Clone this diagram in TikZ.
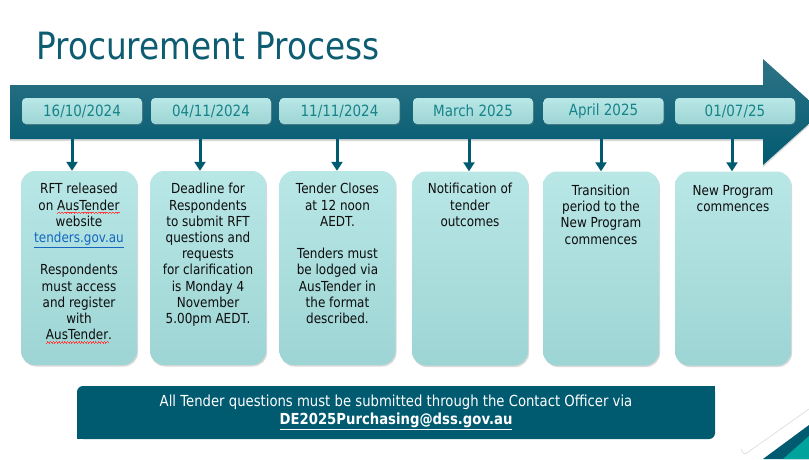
\documentclass[tikz,border=0pt]{standalone}
\usepackage{fontspec}
\usetikzlibrary{shadows,positioning,arrows.meta}
\newfontfamily\tah{DejaVu Sans}[FakeStretch=0.87]
\definecolor{tealdk}{HTML}{005A70}
\definecolor{bandtop}{HTML}{2F7386}
\definecolor{titlec}{HTML}{0E5C71}
\definecolor{datec}{HTML}{16838A}
\definecolor{boxtop}{HTML}{B8E7E6}
\definecolor{boxbot}{HTML}{9DD5D4}
\definecolor{linkc}{HTML}{1565C0}
\definecolor{tealmid}{HTML}{00A39C}
\newsavebox\sqbox
\newcommand\sq[1]{\sbox\sqbox{#1}\rlap{\color{red!75}\hbox to\wd\sqbox{\xleaders\hbox{\rule[-3.3pt]{0.7pt}{0.45pt}\rule[-2.6pt]{0.7pt}{0.45pt}\rule[-2.0pt]{0.7pt}{0.45pt}\rule[-2.6pt]{0.7pt}{0.45pt}}\hfill}}\usebox\sqbox}
\begin{document}
\begin{tikzpicture}[x=1pt,y=-1pt,
  datebox/.style={draw=none,rounded corners=4pt,top color=boxtop,bottom color=boxbot,
    minimum width=120pt,minimum height=26pt,inner sep=0pt,
    font=\tah\fontsize{15.5}{18}\selectfont,text=datec,
    drop shadow={opacity=.35,shadow xshift=.8pt,shadow yshift=-1.2pt}},
  cbox/.style={draw=none,rounded corners=14pt,top color=boxtop,bottom color=boxbot,
    minimum width=116pt,minimum height=194pt,inner sep=0pt,
    drop shadow={opacity=.3,shadow xshift=1pt,shadow yshift=-1.5pt}},
  ctext/.style={align=center,inner sep=0pt,font=\tah\fontsize{13.8}{16.2}\selectfont,text=black!95},
  arr/.style={draw=tealdk,line width=3pt,-{Triangle[width=11pt,length=9pt]}},
  banner/.style={fill=tealdk,rounded corners=6pt,minimum width=638pt,minimum height=53pt,
    align=center,text=white,font=\tah\fontsize{15.2}{18}\selectfont},
]
\useasboundingbox (0,0) rectangle (809,459);
\clip (0,0) rectangle (809,459);

% title
\node[anchor=base west,inner sep=0pt,text=titlec,font=\tah\fontsize{37.6}{40}\selectfont] (title) at (36,59) {Procurement Process};

% band arrow
\path[top color=bandtop,bottom color=tealdk,drop shadow={opacity=.3,shadow xshift=0pt,shadow yshift=-2pt}]
  (10,85) -- (763,85) -- (763,59) -- (822,112) -- (763,165) -- (763,139) -- (10,139) -- cycle;

% date boxes
\node[datebox] (d1) at (82,111) {16/10/2024};
\node[datebox] (d2) at (211,111) {04/11/2024};
\node[datebox] (d3) at (339.5,111) {11/11/2024};
\node[datebox] (d4) at (473,111) {March 2025};
\node[datebox] (d5) at (603.5,111) {April 2025};
\node[datebox] (d6) at (735,111) {01/07/25};

% content boxes
\node[cbox] (b1) at (79,268) {};
\node[cbox] (b2) at (208,268) {};
\node[cbox] (b3) at (337.5,268) {};
\node[cbox] (b4) at (470,268.5) {};
\node[cbox] (b5) at (601,268.5) {};
\node[cbox] (b6) at (733,268.5) {};

% arrows
\coordinate (a1) at (72,139);
\coordinate (a2) at (200,139);
\coordinate (a3) at (337,139);
\coordinate (a4) at (469,139);
\coordinate (a5) at (601,139);
\coordinate (a6) at (732,139);
\foreach \i in {1,...,6}{\draw[arr] (a\i) -- (a\i |- b\i.north);}

% texts
\node[ctext,below=12.5pt of b1.north] (t1) {RFT released\\on \sq{AusTender}\\website\\{\color{linkc}\underline{tenders.gov.au}}\\[16.2pt]Respondents\\must access\\and register\\with\\\sq{AusTender}.};
\node[ctext,below=12.5pt of b2.north] (t2) {Deadline for\\Respondents\\to submit RFT\\questions and\\requests\\for clarification\\is Monday 4\\November\\5.00pm AEDT.};
\node[ctext,below=12.5pt of b3.north] (t3) {Tender Closes\\at 12 noon\\AEDT.\\[16.2pt]Tenders must\\be lodged via\\AusTender in\\the format\\described.};
\node[ctext,below=12pt of b4.north] (t4) {Notification of\\tender\\outcomes};
\node[ctext,below=13.5pt of b5.north] (t5) {Transition\\period to the\\New Program\\commences};
\node[ctext,below=13.5pt of b6.north] (t6) {New Program\\commences};

% banner
\node[banner] (ban) at (396,412.5) {All Tender questions must be submitted through the Contact Officer via\\\textbf{\underline{DE2025Purchasing@dss.gov.au}}};
\fill[tealdk] (ban.south west) rectangle +(8,-8);
\fill[tealdk] (ban.north east) rectangle +(-8,8);

% corner decoration
\draw[black!12,line width=.8pt,rounded corners=3pt] (741,449) -- (744,455) -- (809,409);
\fill[tealdk] (763,459) -- (809,425) -- (809,459) -- cycle;
\fill[tealmid] (783,459) -- (809,436) -- (809,459) -- cycle;
\end{tikzpicture}
\end{document}
